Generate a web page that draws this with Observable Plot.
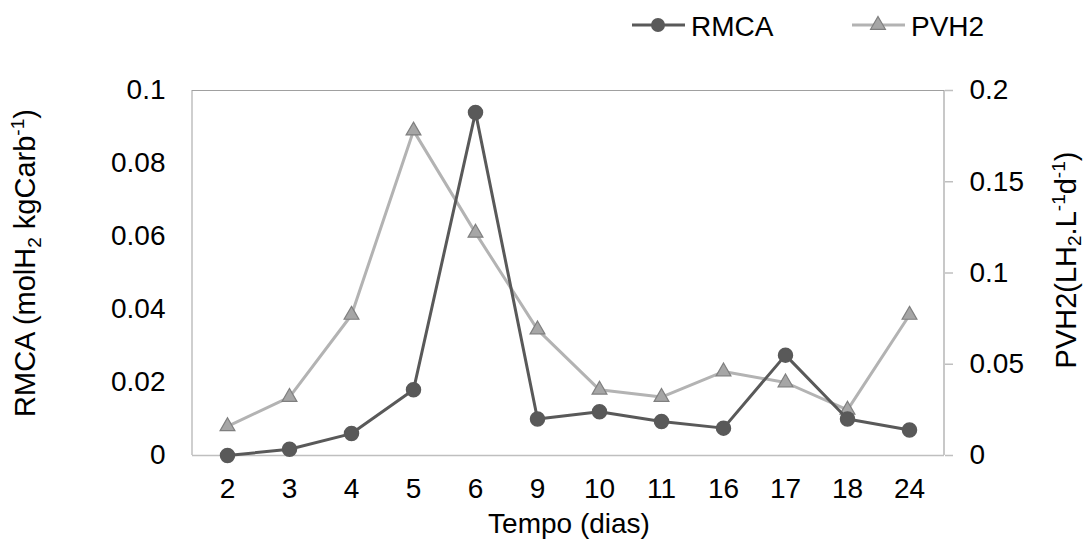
<!DOCTYPE html>
<html><head><meta charset="utf-8">
<script src="https://cdn.jsdelivr.net/npm/d3@7"></script>
<script src="https://cdn.jsdelivr.net/npm/@observablehq/plot@0.6"></script>
<style>
body{margin:0;background:#fff;font-family:"Liberation Sans",Arial,sans-serif;}
#wrap{position:relative;width:1083px;height:544px;}
#legend{height:50px;position:relative;}
</style></head>
<body><div id="wrap"><div id="legend"></div><div id="chart"></div></div>
<script>
const days = ["2","3","4","5","6","9","10","11","16","17","18","24"];
const rmca = [0, 0.0017, 0.006, 0.018, 0.094, 0.010, 0.012, 0.0093, 0.0075, 0.0275, 0.010, 0.007];
const pvh2 = [0.016, 0.032, 0.077, 0.178, 0.122, 0.069, 0.036, 0.032, 0.046, 0.040, 0.025, 0.077];
const leftTicks = [0, 0.02, 0.04, 0.06, 0.08, 0.1];
const rightTicks = [0, 0.05, 0.1, 0.15, 0.2];
const ratio = 2; // right axis max / left axis max

const data = days.map((d, i) => ({day: d, rmca: rmca[i], pvh2: pvh2[i]}));
const cDark = "#595959", cLight = "#b3b3b3", cTriFill = "#a6a6a6", cTriStroke = "#7f7f7f", cFrame = "#bfbfbf";
const FS = 28;

const W = 1083, H = 494;
const plot = Plot.plot({
  width: W, height: H,
  marginLeft: 192, marginRight: 139, marginTop: 40, marginBottom: 89,
  style: {fontFamily: "'Liberation Sans', Arial, sans-serif", fontSize: FS + "px", color: "#000", background: "#fff", overflow: "visible"},
  x: {type: "point", domain: days, padding: 0.5},
  y: {domain: [0, 0.1]},
  marks: [
    Plot.ruleY([0.1], {stroke: "#a0a0a0", strokeWidth: 1}),
    Plot.ruleY([0], {stroke: cFrame, strokeWidth: 1.5}),
    Plot.axisX({tickSize: 0, tickPadding: 23, fontSize: FS, label: null, fill: "#000"}),
    Plot.axisY(leftTicks, {anchor: "left", tickSize: 0, tickPadding: 27, fontSize: FS, label: null, tickFormat: d => String(d), fill: "#000"}),
    Plot.axisY(rightTicks.map(v => v / ratio), {anchor: "right", tickSize: 8, tickPadding: 17, fontSize: FS, label: null, stroke: cFrame, strokeWidth: 1.5, tickFormat: (d, i) => String(rightTicks[i]), fill: "#000"}),
    Plot.line(data, {x: "day", y: d => d.pvh2 / ratio, stroke: cLight, strokeWidth: 3}),
    Plot.dot(data, {x: "day", y: d => d.pvh2 / ratio, symbol: "triangle", r: 5.5, fill: cTriFill, stroke: cTriStroke, strokeWidth: 1.2}),
    Plot.line(data, {x: "day", y: "rmca", stroke: cDark, strokeWidth: 3}),
    Plot.dot(data, {x: "day", y: "rmca", r: 7, fill: cDark, stroke: cDark})
  ]
});
document.getElementById("chart").appendChild(plot);

const sy = plot.scale("y");
const svg = d3.select(plot);
const x0 = 192, x1 = W - 139;
const yTop = sy.apply(0.1), yBot = sy.apply(0);
svg.insert("line", ":first-child").attr("x1", x0).attr("x2", x0).attr("y1", yTop).attr("y2", yBot).attr("stroke", cFrame).attr("stroke-width", 1.5);
svg.insert("line", ":first-child").attr("x1", x1).attr("x2", x1).attr("y1", yTop).attr("y2", yBot).attr("stroke", "#c8c8c8").attr("stroke-width", 2);

// axis titles with sub/superscripts
const font = "'Liberation Sans', Arial, sans-serif";
const TF = 29, SS = 19;
const lt = svg.append("text").attr("transform", `translate(35,${263 - 50}) rotate(-90)`).attr("text-anchor", "middle")
  .attr("font-family", font).attr("font-size", TF).attr("fill", "#000");
lt.append("tspan").text("RMCA (molH");
lt.append("tspan").attr("dy", 6).attr("font-size", SS).text("2");
lt.append("tspan").attr("dy", -6).text(" kgCarb");
lt.append("tspan").attr("dy", -11).attr("font-size", SS).text("-1");
lt.append("tspan").attr("dy", 11).text(")");

const rt = svg.append("text").attr("transform", `translate(1076,${260 - 50}) rotate(-90)`).attr("text-anchor", "middle")
  .attr("font-family", font).attr("font-size", TF).attr("fill", "#000");
rt.append("tspan").text("PVH2(LH");
rt.append("tspan").attr("dy", 5).attr("font-size", SS).text("2");
rt.append("tspan").attr("dy", -5).text(".L");
rt.append("tspan").attr("dy", -11).attr("font-size", SS).text("-1");
rt.append("tspan").attr("dy", 11).text("d");
rt.append("tspan").attr("dy", -11).attr("font-size", SS).text("-1");
rt.append("tspan").attr("dy", 11).text(")");

svg.append("text").attr("x", 569).attr("y", 533 - 50).attr("text-anchor", "middle")
  .attr("font-family", font).attr("font-size", FS).attr("fill", "#000").text("Tempo (dias)");

// legend
const lg = d3.select("#legend").append("svg").attr("width", W).attr("height", 50);
const items = [
  {name: "RMCA", x: 632, w: 53, m: 26, tx: 691, stroke: cDark, sym: "circle"},
  {name: "PVH2", x: 852, w: 53, m: 26, tx: 911, stroke: cLight, sym: "triangle"}
];
items.forEach(it => {
  const g = lg.append("g");
  g.append("line").attr("x1", it.x).attr("x2", it.x + it.w).attr("y1", 25).attr("y2", 25).attr("stroke", it.stroke).attr("stroke-width", 3);
  if (it.sym === "circle") {
    g.append("circle").attr("cx", it.x + it.m).attr("cy", 25).attr("r", 7).attr("fill", cDark);
  } else {
    g.append("path").attr("d", d3.symbol(d3.symbolTriangle, Math.PI * 5.5 * 5.5)()).attr("transform", `translate(${it.x + it.m},25)`)
      .attr("fill", cTriFill).attr("stroke", cTriStroke).attr("stroke-width", 1.2);
  }
  g.append("text").attr("x", it.tx).attr("y", 36).attr("font-family", font).attr("font-size", FS).attr("fill", "#000").text(it.name);
});
</script></body></html>
